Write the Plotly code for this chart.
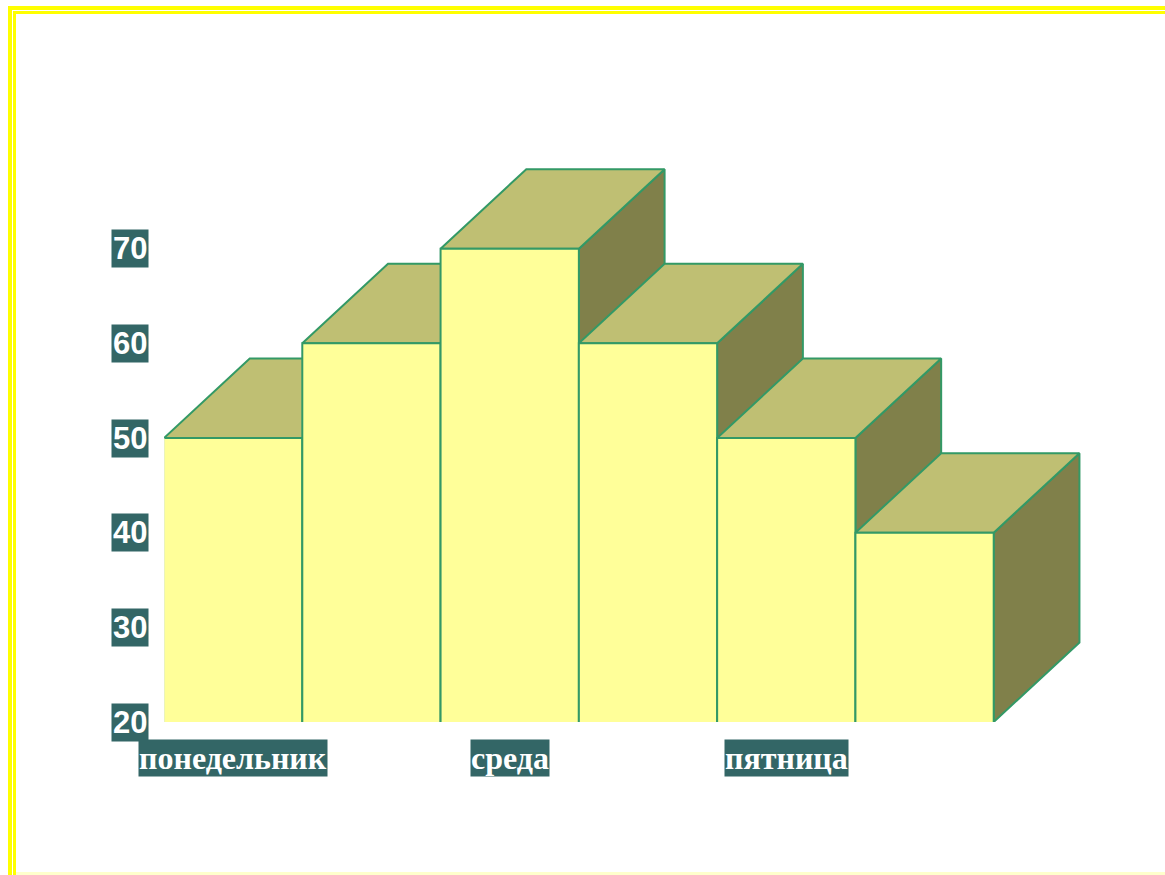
import plotly.graph_objects as go

# ---- data ----
days = ["понедельник", "вторник", "среда", "четверг", "пятница", "суббота"]
values = [50, 60, 70, 60, 50, 40]
shown_labels = {0: "понедельник", 2: "среда", 4: "пятница"}
y_ticks = [20, 30, 40, 50, 60, 70]
base = 20

# ---- style ----
FRONT = "#FFFF99"
TOP = "#BFBF73"
SIDE = "#80804A"
EDGE = "#339966"
LABEL_BG = "#336666"
W, H = 1165, 875
ML, MR, MT, MB = 164, 33, 154, 153
DX, DY = 0.62, 8.4  # depth offset in axis units

fig = go.Figure()

def poly(xs, ys, fill):
    fig.add_trace(go.Scatter(x=xs + [xs[0]], y=ys + [ys[0]], mode="lines",
                             fill="toself", fillcolor=fill,
                             line=dict(color=EDGE, width=2),
                             hoverinfo="skip", showlegend=False))

for i, v in enumerate(values):
    x0, x1 = i, i + 1
    # side face
    poly([x1, x1 + DX, x1 + DX, x1], [base, base + DY, v + DY, v], SIDE)
    # top face
    poly([x0, x1, x1 + DX, x0 + DX], [v, v, v + DY, v + DY], TOP)
    # front face (fill only)
    fig.add_trace(go.Scatter(x=[x0, x1, x1, x0, x0], y=[base, base, v, v, base],
                             mode="lines", fill="toself", fillcolor=FRONT,
                             line=dict(width=0), hoverinfo="skip", showlegend=False))
    ex = [x0, x0, x1, x1] if i > 0 else [x0, x1, x1]
    ey = [base, v, v, base] if i > 0 else [v, v, base]
    fig.add_trace(go.Scatter(x=ex, y=ey, mode="lines", line=dict(color=EDGE, width=2),
                             hoverinfo="skip", showlegend=False))

# faint axis line along the first bar's left edge
fig.add_trace(go.Scatter(x=[0, 0], y=[base, values[0]], mode="lines",
                         line=dict(color="#D6E8DE", width=1), hoverinfo="skip", showlegend=False))

pw, ph = W - ML - MR, H - MT - MB

annotations = []
for t in y_ticks:
    annotations.append(dict(xref="paper", yref="y", x=(149 - ML) / pw, y=t,
                            xanchor="right", yanchor="middle", text=str(t), showarrow=False,
                            bgcolor=LABEL_BG, borderpad=1,
                            font=dict(family="Liberation Sans", size=31, color="white", weight="bold")))
for i, lab in shown_labels.items():
    annotations.append(dict(xref="x", yref="y", x=i + 0.5, y=base, yshift=-17,
                            xanchor="center", yanchor="top", text=lab, showarrow=False,
                            bgcolor=LABEL_BG, borderpad=0,
                            font=dict(family="Liberation Serif", size=32, color="white", weight="bold")))

def px(x):
    return (x - ML) / pw
def py(y):
    return (H - MB - y) / ph

shapes = []
YEL = "#FFFF00"
shapes.append(dict(type="rect", xref="paper", yref="paper", x0=px(8), x1=px(12), y0=py(880), y1=py(6),
                   fillcolor=YEL, line=dict(width=0), layer="below"))
shapes.append(dict(type="rect", xref="paper", yref="paper", x0=px(8), x1=px(1170), y0=py(10), y1=py(6),
                   fillcolor=YEL, line=dict(width=0), layer="below"))
shapes.append(dict(type="rect", xref="paper", yref="paper", x0=px(13), x1=px(16), y0=py(880), y1=py(11),
                   fillcolor=YEL, line=dict(width=0), layer="below"))
shapes.append(dict(type="rect", xref="paper", yref="paper", x0=px(13), x1=px(1170), y0=py(14), y1=py(11),
                   fillcolor=YEL, line=dict(width=0), layer="below"))
shapes.append(dict(type="rect", xref="paper", yref="paper", x0=px(16), x1=px(1170), y0=py(875), y1=py(872),
                   fillcolor="#FFFFCC", line=dict(width=0), layer="below"))

fig.update_layout(
    width=W, height=H, margin=dict(l=ML, r=MR, t=MT, b=MB),
    paper_bgcolor="white", plot_bgcolor="white",
    xaxis=dict(range=[0, 7], showgrid=False, zeroline=False, showticklabels=False,
               showline=False, fixedrange=True),
    yaxis=dict(range=[20, 80], showgrid=False, zeroline=False, showticklabels=False,
               showline=False, fixedrange=True),
    annotations=annotations, shapes=shapes, showlegend=False,
)

fig.write_html("out.html")
